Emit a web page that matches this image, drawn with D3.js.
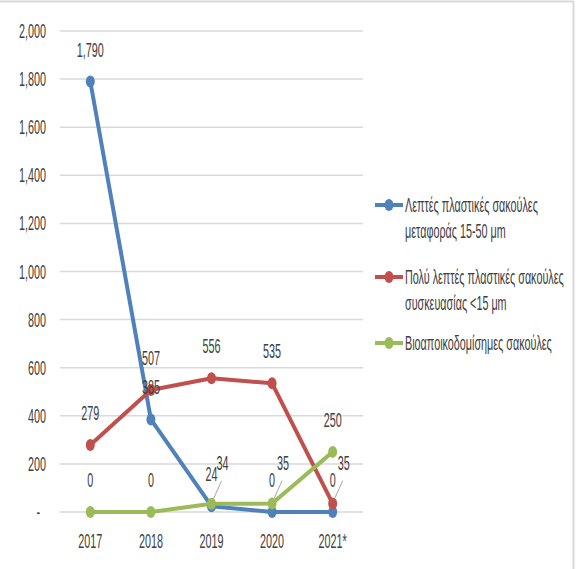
<!DOCTYPE html>
<html>
<head>
<meta charset="utf-8">
<script src="https://cdn.jsdelivr.net/npm/d3@7"></script>
<style>
  body { margin: 0; background: #fff; }
  svg { display: block; }
  text { font-family: "Liberation Sans Narrow", "Liberation Sans", Arial, sans-serif; fill: #404040; }
</style>
</head>
<body>
<div id="chart"></div>
<script>
const years = ['2017', '2018', '2019', '2020', '2021*'];
const thinBags = [1790, 385, 24, 0, 0];
const veryThinBags = [279, 507, 556, 535, 35];
const bioBags = [0, 0, 34, 35, 250];
const seriesNames = [
  ['Λεπτές πλαστικές σακούλες', 'μεταφοράς 15-50 μm'],
  ['Πολύ λεπτές πλαστικές σακούλες', 'συσκευασίας <15 μm'],
  ['Βιοαποικοδομίσημες σακούλες']
];
const seriesColors = ['#4f81bd', '#c0504d', '#9bbb59'];
const yTicks = [0, 200, 400, 600, 800, 1000, 1200, 1400, 1600, 1800, 2000];

const W = 578, H = 569;
const SX = 0.54; // text is horizontally squeezed in the reference
const FS = 20;

const svg = d3.select('#chart').append('svg')
  .attr('width', W)
  .attr('height', H);

// frame
svg.append('line').attr('x1', 0).attr('x2', 573.5).attr('y1', 1.5).attr('y2', 1.5)
  .attr('stroke', '#d9d9d9').attr('stroke-width', 2);
svg.append('line').attr('x1', 573.5).attr('x2', 573.5).attr('y1', 1).attr('y2', H)
  .attr('stroke', '#d9d9d9').attr('stroke-width', 2);

const x = d3.scaleBand().domain(years).range([60, 363]);
const y = d3.scaleLinear().domain([0, 2000]).range([512, 31]);
const cx = d => x(d) + x.bandwidth() / 2;

function label(g, str, px, py, anchor) {
  return g.append('text')
    .attr('transform', `translate(${px},${py}) scale(${SX},1)`)
    .attr('text-anchor', anchor || 'middle')
    .style('font-size', FS + 'px')
    .text(str);
}

// gridlines
svg.append('g').selectAll('line')
  .data(yTicks)
  .enter().append('line')
    .attr('x1', 60).attr('x2', 363)
    .attr('y1', d => y(d)).attr('y2', d => y(d))
    .attr('stroke', '#d9d9d9')
    .attr('stroke-width', 1.5);

// y axis labels
const yAxisG = svg.append('g');
yTicks.forEach(t => {
  label(yAxisG, t === 0 ? '-' : d3.format(',')(t), t === 0 ? 40 : 46, y(t) + 7, 'end');
});

// x axis labels
const xAxisG = svg.append('g');
years.forEach(yr => label(xAxisG, yr, cx(yr), 548));

const series = [thinBags, veryThinBags, bioBags];

const line = d3.line()
  .x((d, i) => cx(years[i]))
  .y(d => y(d));

series.forEach((vals, s) => {
  svg.append('path')
    .datum(vals)
    .attr('fill', 'none')
    .attr('stroke', seriesColors[s])
    .attr('stroke-width', 4)
    .attr('stroke-linejoin', 'round')
    .attr('d', line);
});

series.forEach((vals, s) => {
  svg.append('g').selectAll('ellipse')
    .data(vals)
    .enter().append('ellipse')
      .attr('cx', (d, i) => cx(years[i]))
      .attr('cy', d => y(d))
      .attr('rx', 4.5)
      .attr('ry', 6)
      .attr('fill', seriesColors[s]);
});

// data labels, nudged with a leader line when they collide
const labelsG = svg.append('g');
const placed = years.map(() => []);
series.forEach((vals, s) => {
  vals.forEach((v, i) => {
    const px = cx(years[i]);
    let ly = y(v) - 25;
    let lx = px;
    const clash = placed[i].some(p => Math.abs(p - ly) < 16);
    if (clash) {
      lx = px + 11;
      ly = ly - 9;
      labelsG.append('line')
        .attr('x1', lx - 1).attr('y1', ly + 11)
        .attr('x2', px + 2).attr('y2', y(v) - 5)
        .attr('stroke', '#a6a6a6')
        .attr('stroke-width', 1);
    }
    placed[i].push(ly);
    label(labelsG, d3.format(',')(v), lx, ly);
  });
});

// legend
const legendG = svg.append('g');
const legendY = [205, 277, 343];
seriesNames.forEach((lines, s) => {
  const ly = legendY[s];
  legendG.append('line')
    .attr('x1', 375).attr('x2', 403)
    .attr('y1', ly).attr('y2', ly)
    .attr('stroke', seriesColors[s])
    .attr('stroke-width', 4);
  legendG.append('ellipse')
    .attr('cx', 389).attr('cy', ly)
    .attr('rx', 4.5).attr('ry', 6)
    .attr('fill', seriesColors[s]);
  lines.forEach((t, k) => {
    label(legendG, t, 405, ly + 7 + k * 26, 'start');
  });
});
</script>
</body>
</html>
